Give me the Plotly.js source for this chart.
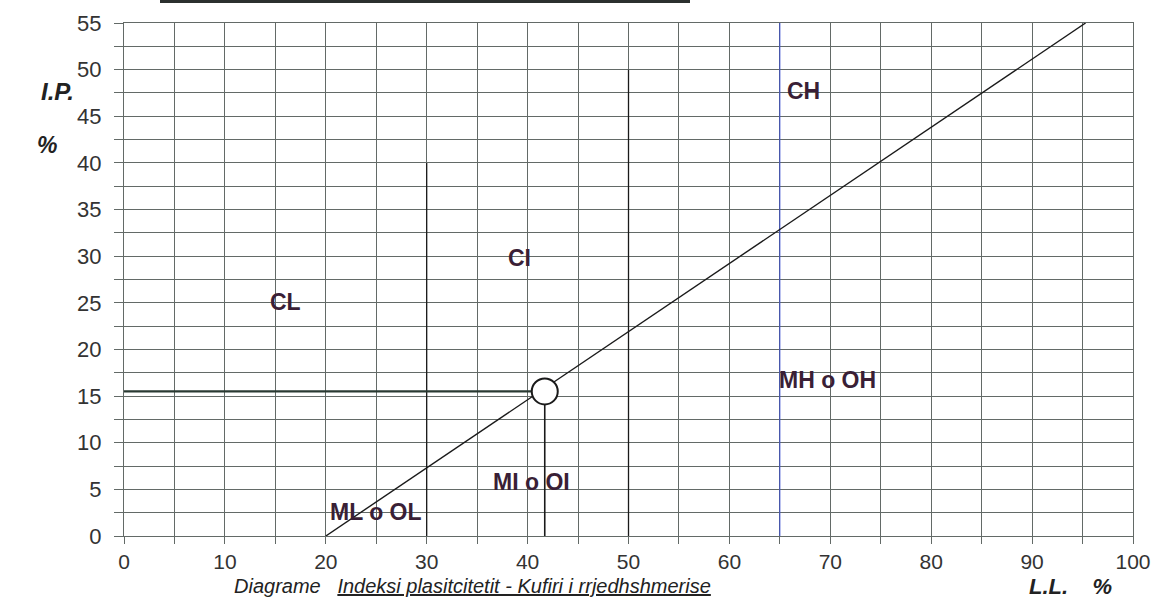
<!DOCTYPE html>
<html>
<head>
<meta charset="utf-8">
<script src="https://cdn.plot.ly/plotly-3.0.1.min.js"></script>
<style>html,body{margin:0;padding:0;background:#fff;}#chart{width:1162px;height:616px;}</style>
</head>
<body>
<div id="chart"></div>
<script>
// A-line (PI = 0.73 (LL - 20)) end points
const aLineLL = [20, 95.3];
const aLinePI = [0, 55];
// Boundary verticals
const bound30LL = [30, 30];
const bound30PI = [0, 40];
const bound50LL = [50, 50];
const bound50PI = [0, 50];
const bound65LL = [65, 65];
const bound65PI = [0, 55];
// Sample point
const sampleLL = [41.7];
const samplePI = [15.5];
// Zone labels
const zoneLabels = ["CL", "CI", "CH", "MH o OH", "MI o OI", "ML o OL"];
const zoneLL = [16, 39.2, 67.3, 69.7, 40.4, 25];
const zonePI = [25.1, 29.8, 47.7, 16.7, 5.8, 2.6];
// Ticks
const xTicks = [0, 10, 20, 30, 40, 50, 60, 70, 80, 90, 100];
const yTicks = [0, 5, 10, 15, 20, 25, 30, 35, 40, 45, 50, 55];

const black = '#1a1a1a';
const traces = [
  {x: bound30LL, y: bound30PI, mode: 'lines', line: {color: black, width: 1.3}},
  {x: bound50LL, y: bound50PI, mode: 'lines', line: {color: black, width: 1.3}},
  {x: bound65LL, y: bound65PI, mode: 'lines', line: {color: '#3a4fd0', width: 1}},
  {x: aLineLL, y: aLinePI, mode: 'lines', line: {color: black, width: 1.4}},
  {x: [0, sampleLL[0]], y: [samplePI[0], samplePI[0]], mode: 'lines', line: {color: '#2a3a33', width: 2.2}},
  {x: [sampleLL[0], sampleLL[0]], y: [0, samplePI[0]], mode: 'lines', line: {color: black, width: 1.6}},
  {x: sampleLL, y: samplePI, mode: 'markers', marker: {size: 26, color: '#ffffff', line: {color: black, width: 2}}}
];

const gridColor = '#636a67';
const FONT = 'Liberation Sans, Arial, sans-serif';
const annotations = zoneLabels.map((t, i) => ({
  x: zoneLL[i], y: zonePI[i], xref: 'x', yref: 'y', text: '<b>' + t + '</b>',
  showarrow: false, xanchor: 'center', yanchor: 'middle',
  font: {family: FONT, size: 23, color: '#3a1f36'}
}));
annotations.push(
  {xref: 'paper', yref: 'paper', x: -0.066, y: 0.866, xanchor: 'center', yanchor: 'middle',
   text: '<b><i>I.P.</i></b>', showarrow: false, font: {family: FONT, size: 24, color: '#222'}},
  {xref: 'paper', yref: 'paper', x: -0.076, y: 0.762, xanchor: 'center', yanchor: 'middle',
   text: '<b><i>%</i></b>', showarrow: false, font: {family: FONT, size: 23, color: '#222'}},
  {xref: 'paper', yref: 'paper', x: 0.107, y: -0.098, xanchor: 'left', yanchor: 'middle',
   text: '<i>Diagrame   <span style="text-decoration:underline">Indeksi plasitcitetit - Kufiri i rrjedhshmerise</span></i>', showarrow: false,
   font: {family: FONT, size: 20, color: '#222'}},
  {xref: 'paper', yref: 'paper', x: 0.895, y: -0.098, xanchor: 'left', yanchor: 'middle',
   text: '<b><i>L.L.    %</i></b>', showarrow: false, font: {family: FONT, size: 22, color: '#222'}}
);

const layout = {
  width: 1162, height: 616,
  margin: {l: 124, r: 29, t: 23, b: 80},
  paper_bgcolor: '#ffffff', plot_bgcolor: '#ffffff',
  showlegend: false,
  font: {family: FONT, size: 21, color: '#333'},
  xaxis: {
    range: [0, 100], tickvals: xTicks, ticktext: xTicks.map(String),
    showgrid: true, gridcolor: gridColor, gridwidth: 1,
    ticks: 'outside', ticklen: 7, tickcolor: gridColor, ticklabelstandoff: 0,
    minor: {dtick: 5, showgrid: true, gridcolor: gridColor, gridwidth: 1, ticks: 'outside', ticklen: 7, tickcolor: gridColor},
    showline: true, linecolor: gridColor, mirror: true, zeroline: false,
    tickfont: {size: 21, color: '#333'}, fixedrange: true
  },
  yaxis: {
    range: [0, 55], tickvals: yTicks, ticktext: yTicks.map(String),
    showgrid: true, gridcolor: gridColor, gridwidth: 1,
    ticks: 'outside', ticklen: 9, tickcolor: gridColor, ticklabelstandoff: 8,
    minor: {dtick: 2.5, showgrid: true, gridcolor: gridColor, gridwidth: 1, ticks: 'outside', ticklen: 9, tickcolor: gridColor},
    showline: true, linecolor: gridColor, mirror: true, zeroline: false,
    tickfont: {size: 22, color: '#333'}, fixedrange: true
  },
  shapes: [
    {type: 'rect', xref: 'paper', yref: 'paper', x0: (160-124)/1009, x1: (690-124)/1009, y0: (536-0)/513, y1: (536-3)/513,
     fillcolor: '#2b302e', line: {width: 0}, layer: 'above'}
  ],
  annotations: annotations
};

Plotly.newPlot('chart', traces, layout, {staticPlot: true, displayModeBar: false});
</script>
</body>
</html>
